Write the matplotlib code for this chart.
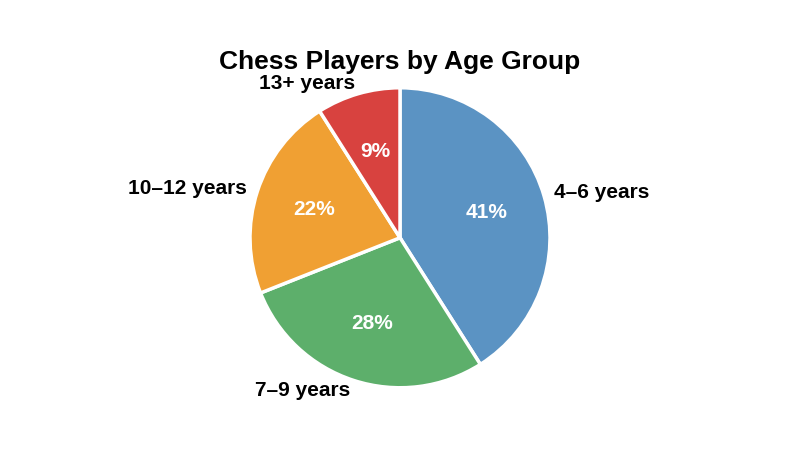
import matplotlib
matplotlib.use("Agg")
import matplotlib.pyplot as plt

labels = ["4–6 years", "7–9 years", "10–12 years", "13+ years"]
values = [41, 28, 22, 9]
colors = ["#5b93c3", "#5daf6b", "#f0a033", "#d8423f"]

plt.rcParams['font.family'] = ['Liberation Sans', 'DejaVu Sans']
fig = plt.figure(figsize=(8, 4.5), dpi=100)
ax = fig.add_axes([0.2656, 0.055, 0.4688, 0.8333])
wedges, texts, autotexts = ax.pie(values, labels=labels, colors=colors, startangle=90,
    counterclock=False, autopct='%d%%', pctdistance=0.6, labeldistance=1.07,
    wedgeprops=dict(edgecolor='white', linewidth=2.5),
    textprops=dict(fontsize=15, fontweight='bold', color='black'))
for t in autotexts:
    t.set_color('white'); t.set_fontsize(15)
ax.set_aspect('equal')
fig.text(0.5, 0.862, "Chess Players by Age Group", ha='center', va='center',
         fontsize=19, fontweight='bold')
fig.savefig("out.png", dpi=100, facecolor='white')
